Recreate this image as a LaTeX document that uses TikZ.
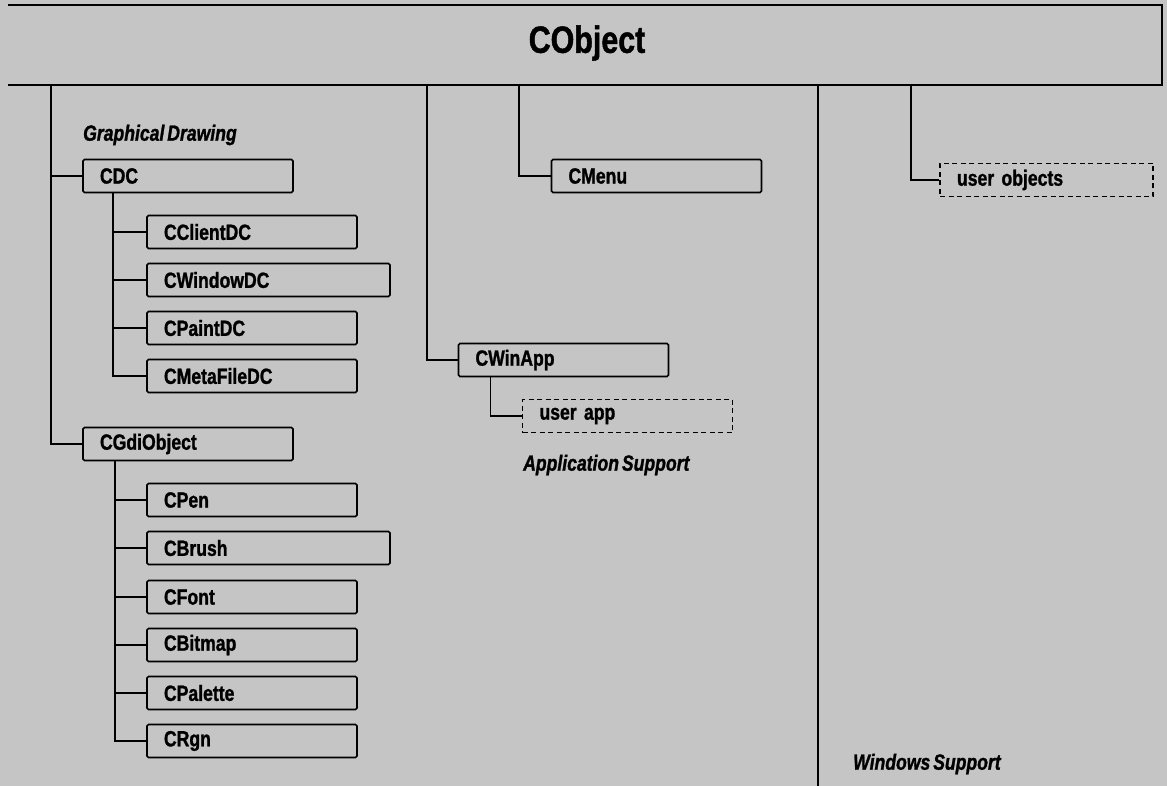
\documentclass[tikz,border=0pt]{standalone}
\usepackage{fontspec}
\usepackage{tikz}
\usetikzlibrary{positioning,calc}
\usepackage{xcolor}
\newfontfamily\condfont{Liberation Sans}[FakeStretch=0.8,FakeBold=1.2,WordSpace=0.6]
\newcommand\boxfont{\condfont\bfseries\fontsize{22}{24}\selectfont\spaceskip=4pt\relax}
\definecolor{paper}{RGB}{197,197,197}

\begin{document}
\begin{tikzpicture}[x=1pt,y=-1pt,
    cbox/.style={draw,line width=1.6pt,rounded corners=1.5pt,minimum height=33pt,inner xsep=17pt,inner ysep=0pt,text width=#1,align=left,font=\boxfont},
    cbox/.default=176pt,
    ubox/.style={cbox=#1,dash pattern=on 5pt off 3.5pt,line width=1.3pt,rounded corners=0pt},
    ubox/.default=176pt,
    link/.style={line width=1.5pt},
    grouplabel/.style={anchor=west,inner sep=0pt,font=\condfont\bfseries\itshape\fontsize{22}{24}\selectfont}]
    \useasboundingbox (0,0) rectangle (1167,786);
    \fill[paper] (0,0) rectangle (1167,786);
    % Root band
    \draw[line width=1.8pt] (8,5) -- (1162,5) -- (1162,85) -- (8,85);
    \node[font=\condfont\bfseries\fontsize{38}{40}\selectfont] (cobject) at (587,43) {CObject};
    
    % Trunk tops on the band
    \coordinate (gdtop) at (51,85);
    \coordinate (apptop) at (427,85);
    \coordinate (menutop) at (519,85);
    \coordinate (wintop) at (818,85);
    \coordinate (winend) at (818,786);
    \coordinate (usertop) at (911,85);
    
    % Graphical drawing
    \node[grouplabel] (gdlabel) at (83,135) {Graphical Drawing};
    \node[cbox] (cdc) at (188,176) {CDC};
    \node[cbox] (clientdc) at (252,232) {CClientDC};
    \node[cbox=209pt] (windowdc) at (268.5,280) {CWindowDC};
    \node[cbox] (paintdc) at (252,328) {CPaintDC};
    \node[cbox] (metadc) at (252,376) {CMetaFileDC};
    \node[cbox] (gdiobj) at (188,444) {CGdiObject};
    \node[cbox] (pen) at (252,500) {CPen};
    \node[cbox=209pt] (brush) at (268.5,548) {CBrush};
    \node[cbox] (font) at (252,597) {CFont};
    \node[cbox] (bitmap) at (252,645) {CBitmap};
    \node[cbox] (palette) at (252,693) {CPalette};
    \node[cbox] (rgn) at (252,741) {CRgn};
    
    \draw[link] (gdtop) |- (cdc);
    \draw[link] (gdtop) |- (gdiobj);
    \foreach \c in {clientdc,windowdc,paintdc,metadc}
        \draw[link] ([xshift=31pt]cdc.south west) |- (\c);
    \foreach \c in {pen,brush,font,bitmap,palette,rgn}
        \draw[link] ([xshift=33pt]gdiobj.south west) |- (\c);
    
    % Application support
    \node[cbox] (cmenu) at (656.5,176) {CMenu};
    \node[cbox] (cwinapp) at (563.5,360) {CWinApp};
    \node[ubox] (userapp) at (627.5,416) {user app};
    \node[grouplabel] (applabel) at (523,465) {Application Support};
    
    \draw[link] (menutop) |- (cmenu);
    \draw[link] (apptop) |- (cwinapp);
    \draw[link] ([xshift=33pt]cwinapp.south west) |- (userapp);
    
    % Windows support
    \draw[link] (wintop) -- (winend);
    \node[ubox=179pt] (userobj) at (1046.5,180) {user objects};
    \node[grouplabel] (winlabel) at (853,764) {Windows Support};
    
    \draw[link] (usertop) |- (userobj);
\end{tikzpicture}
\end{document}
